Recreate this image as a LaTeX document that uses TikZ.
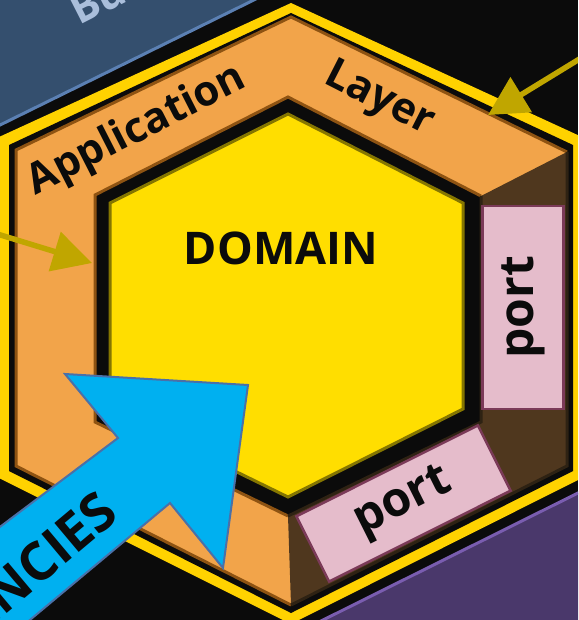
\documentclass[tikz,border=0pt]{standalone}
\usepackage{fontspec}
\setmainfont{Open Sans}
\usetikzlibrary{arrows.meta}

\definecolor{bgblack}{HTML}{0B0B0B}
\definecolor{hexyellow}{HTML}{FFD200}
\definecolor{domyellow}{HTML}{FFDE00}
\definecolor{domolive}{HTML}{857600}
\definecolor{apporange}{HTML}{F2A44A}
\definecolor{appbrown}{HTML}{8E5312}
\definecolor{sideface}{HTML}{4F371E}
\definecolor{sideedge}{HTML}{2E2213}
\definecolor{portpink}{HTML}{E5BCCB}
\definecolor{portedge}{HTML}{7B3A58}
\definecolor{depblue}{HTML}{00B0F0}
\definecolor{depedge}{HTML}{4A70A8}
\definecolor{arrowolive}{HTML}{C0A600}
\definecolor{busblue}{HTML}{344F6E}
\definecolor{busedge}{HTML}{5B80B3}
\definecolor{bustext}{HTML}{A9BEDB}
\definecolor{infpurple}{HTML}{4A386B}
\definecolor{infedge}{HTML}{7A5DB0}

\tikzset{
  portbox/.style={draw=portedge, fill=portpink, line width=2.5pt, minimum width=203pt,
    inner sep=0pt, text=bgblack, font=\fontsize{48}{48}\selectfont\bfseries},
  layerlabel/.style={inner sep=0pt, text=bgblack, font=\fontsize{42}{42}\selectfont\bfseries},
  layerarrow/.style={draw=arrowolive, line width=5.5pt, -{Triangle[length=39pt,width=40pt]}},
}

\begin{document}
\begin{tikzpicture}[x=1pt,y=-1pt]

    \useasboundingbox (0,0) rectangle (578,620);
    \clip (0,0) rectangle (578,620);

    % 1. Background and the neighbouring rings
    \fill[bgblack] (0,0) rectangle (578,620);
    \fill[busblue] (-5,-5) -- (264,-5) -- (-5,127.5) -- cycle;
    \draw[busedge, line width=3pt] (264,-5) -- (-5,127.5);
    \node[rotate=27, anchor=base west, inner sep=0pt, text=bustext,
          font=\fontsize{42}{42}\selectfont\bfseries] (bus) at (79,26) {Bu};
    \fill[infpurple] (313,625) -- (588,488) -- (588,625) -- cycle;
    \draw[infedge, line width=3pt] (313,625) -- (588,488);

    % 2. Outer yellow border and black ring
    \fill[hexyellow] (291,3) -- (582,137) -- (582,478) -- (291,624) -- (-1,478) -- (-1,137) -- cycle;
    \fill[bgblack] (291,13) -- (573,145) -- (573,471) -- (291,613) -- (9,471) -- (9,145) -- cycle;

    % 3. Application layer (top face and dark side faces)
    \fill[apporange] (291,17) -- (567,152) -- (567,466) -- (291,605) -- (16,466) -- (16,150) -- cycle;
    \fill[sideface] (481,196) -- (567,152) -- (567,466) -- (291,605) -- (288,516) -- (481,422) -- cycle;
    \draw[appbrown, line width=3pt] (291,605) -- (16,466) -- (16,150) -- (291,17) -- (567,152);
    \draw[sideedge, line width=3pt] (567,152) -- (567,466) -- (291,605);

    % 4. Black ring round the domain
    \fill[bgblack] (288,97) -- (481,196) -- (481,422) -- (288,516) -- (95,422) -- (95,195) -- cycle;
    \draw[appbrown, line width=3pt] (288,516) -- (95,422) -- (95,195) -- (288,97) -- (481,196);
    \draw[sideedge, line width=3pt] (481,196) -- (481,422) -- (288,516);

    % 5. Domain
    \draw[domolive, fill=domyellow, line width=3pt]
        (288,114) -- (463,203) -- (463,409) -- (288,497) -- (110,410) -- (110,203) -- cycle;
    \node[layerlabel, font=\fontsize{45}{45}\selectfont\bfseries] (domain) at (281,248) {DOMAIN};

    % 6. Ports
    \node[portbox, minimum height=81pt, rotate=90] (portright) at (523,307.5) {port};
    \node[portbox, minimum height=73pt, rotate=26.6] (portbottom) at (403.5,503.5) {port};

    % 7. Layer labels
    \node[layerlabel, rotate=27] (application) at (137,131) {Application};
    \node[layerlabel, rotate=-27] (layer) at (379,100) {Layer};

    % 8. Small arrows onto the layer
    \coordinate (lefttail) at (-6,233);
    \coordinate (lefttip) at (92,263);
    \coordinate (righttail) at (586,55);
    \coordinate (righttip) at (488,115);
    \draw[layerarrow] (lefttail) -- (lefttip);
    \draw[layerarrow] (righttail) -- (righttip);

    % 9. Dependencies arrow
    \filldraw[fill=depblue, draw=depedge, line width=2pt]
        (-60,572) -- (118,438) -- (65,374) -- (248,385) -- (223,568) -- (170,503) -- (-30,670) -- cycle;
    \node[layerlabel, rotate=40, anchor=east, font=\fontsize{53}{53}\selectfont\bfseries]
        (dependencies) at (109,503) {DEPENDENCIES};

\end{tikzpicture}
\end{document}
